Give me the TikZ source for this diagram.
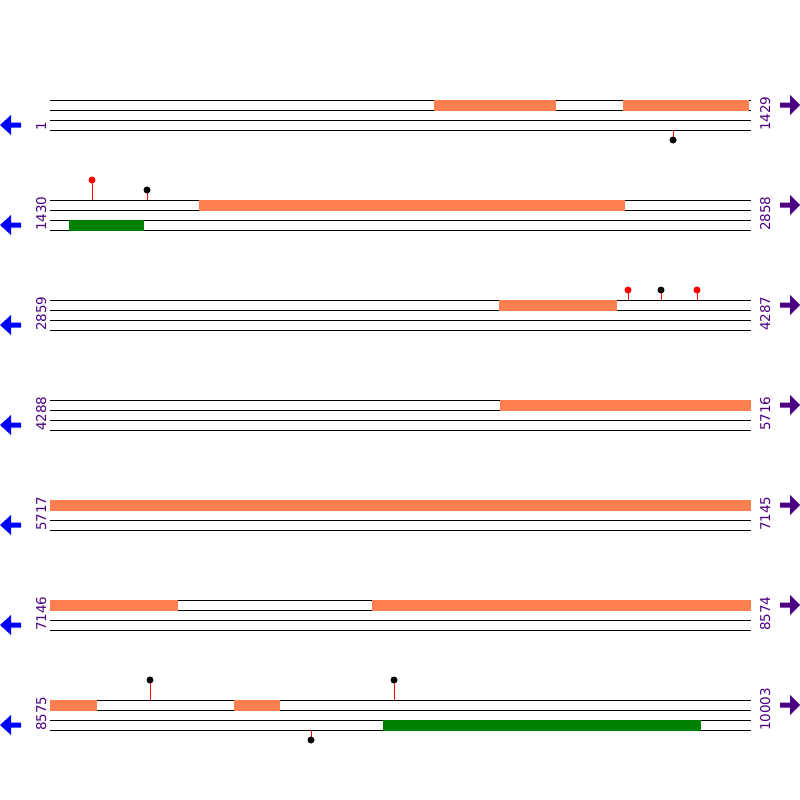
\documentclass[tikz,border=0pt]{standalone}
\usepackage{fontspec}
\setmainfont{DejaVu Sans}
\definecolor{coral}{RGB}{255,127,80}
\definecolor{dgreen}{RGB}{0,128,0}
\definecolor{indig}{RGB}{75,0,130}
\definecolor{arrblue}{RGB}{0,0,255}
\begin{document}
\begin{tikzpicture}[x=1pt,y=-1pt,
  trackline/.style={line width=1pt,black},
  orangebox/.style={fill=coral},
  greenbox/.style={fill=dgreen},
  poslabel/.style={rotate=90,anchor=base west,inner sep=0pt,text=indig,font=\fontsize{13.5}{14}\selectfont},
  stem/.style={red,line width=1pt},
  blob/.style={circle,inner sep=0pt,minimum size=7pt}
]
\useasboundingbox (0,0) rectangle (800,800);
% rows
\foreach \k/\l/\r in {1/1/1429,2/1430/2858,3/2859/4287,4/4288/5716,5/5717/7145,6/7146/8574,7/8575/10003}{
  \pgfmathsetmacro{\Y}{100+100*(\k-1)}
  \foreach \d in {0,10,20,30}{
    \draw[trackline] (50,\Y+\d) -- (751,\Y+\d);
  }
  \node[poslabel] (L\k) at (46,\Y+31) {\l};
  \node[poslabel] (R\k) at (770,\Y+31) {\r};
  \fill[arrblue] (0,\Y+25) -- (11,\Y+15) -- (11,\Y+22.5) -- (21,\Y+22.5) -- (21,\Y+27.5) -- (11,\Y+27.5) -- (11,\Y+35) -- cycle;
  \fill[indig] (800,\Y+5) -- (790,\Y-5) -- (790,\Y+2.5) -- (780,\Y+2.5) -- (780,\Y+7.5) -- (790,\Y+7.5) -- (790,\Y+15) -- cycle;
}
% orange boxes (upper strand)
\foreach \Y/\a/\b in {100/434/556,100/623/749,200/199/625,300/499/617,400/500/751,500/50/751,600/50/178,600/372/751,700/50/97,700/234/280}{
  \fill[orangebox] (\a,\Y-0.5) rectangle (\b,\Y+10.5);
}
% green boxes (lower strand)
\foreach \Y/\a/\b in {200/69/144,700/383/701}{
  \fill[greenbox] (\a,\Y+19.5) rectangle (\b,\Y+30.5);
}
% lollipops above
\foreach \x/\Y/\t/\c [count=\i] in {92/200/180/red,147/200/190/black,628/300/290/red,661/300/290/black,697/300/290/red,150/700/680/black,394/700/680/black}{
  \draw[stem] (\x,\Y) -- (\x,\t);
  \node[blob,fill=\c] (U\i) at (\x,\t) {};
}
% lollipops below
\foreach \x/\Y/\t/\c [count=\i] in {673/130/140/black,311/730/740/black}{
  \draw[stem] (\x,\Y) -- (\x,\t);
  \node[blob,fill=\c] (D\i) at (\x,\t) {};
}
\end{tikzpicture}
\end{document}
